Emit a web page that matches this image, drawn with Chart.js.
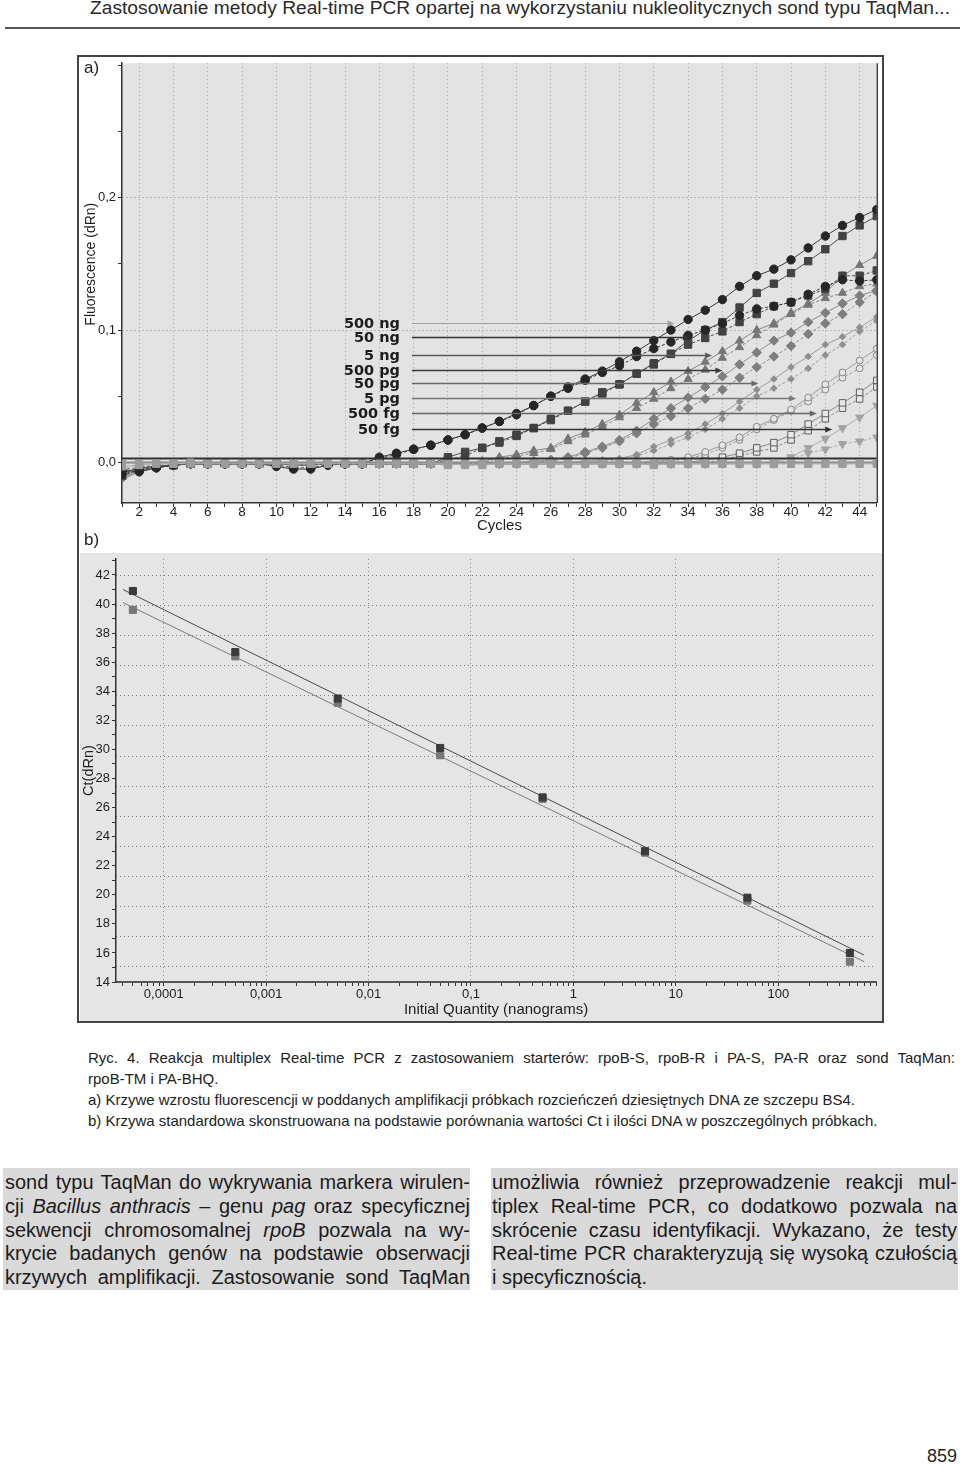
<!DOCTYPE html>
<html lang="pl">
<head>
<meta charset="utf-8">
<title>Ryc. 4 – Real-time PCR</title>
<script src="https://cdn.jsdelivr.net/npm/chart.js@4.4.1/dist/chart.umd.min.js"></script>
<style>
html,body{margin:0;padding:0;background:#fff;}
body{position:relative;width:960px;height:1473px;overflow:hidden;font-family:"Liberation Sans",Arial,Helvetica,sans-serif;color:#1f1f1f;}
.abs{position:absolute;}
.ln{white-space:nowrap;transform-origin:0 0;}
.jl{text-align:justify;text-align-last:justify;}
#header{left:90px;top:-2px;font-size:17.5px;line-height:20px;color:#2a2a2a;}
#rule{left:5px;top:27px;width:955px;height:2px;background:#555;}
#frame{left:77px;top:55px;width:807px;height:968px;border:2px solid #444;box-sizing:border-box;z-index:5;pointer-events:none;}
#lblA{left:84px;top:57px;font-size:17px;line-height:22px;}
#lblB{left:84px;top:529px;font-size:17px;line-height:22px;}
#chartA{left:79px;top:57px;}
#chartB{left:80px;top:553px;background:#e5e5e5;}
#caption{left:88px;top:1047px;width:867px;font-size:15px;line-height:21px;color:#222;}
.col{top:1168px;height:122px;background:#d9d9d9;font-size:20px;line-height:23.75px;color:#1b1b1b;padding-top:3px;box-sizing:border-box;}
#colL{left:3px;width:467px;padding-left:2px;}
#colR{left:491px;width:467px;padding-left:1px;}
#pageno{left:900px;width:57px;top:1445px;text-align:right;font-size:18px;line-height:22px;}
</style>
</head>
<body>
<div id="header" class="abs ln"><span>Zastosowanie metody Real-time PCR opartej na wykorzystaniu nukleolitycznych sond typu TaqMan...</span></div>
<div id="rule" class="abs"></div>

<canvas id="chartA" class="abs" width="804" height="480"></canvas>
<canvas id="chartB" class="abs" width="802" height="468"></canvas>
<div id="frame" class="abs"></div>
<div id="lblA" class="abs">a)</div>
<div id="lblB" class="abs">b)</div>

<div id="caption" class="abs">
  <div class="ln jl" data-just="1"><span>Ryc. 4. Reakcja multiplex Real-time PCR z zastosowaniem starterów: rpoB-S, rpoB-R i PA-S, PA-R oraz sond TaqMan:</span></div>
  <div class="ln"><span>rpoB-TM i PA-BHQ.</span></div>
  <div class="ln"><span>a) Krzywe wzrostu fluorescencji w poddanych amplifikacji próbkach rozcieńczeń dziesiętnych DNA ze szczepu BS4.</span></div>
  <div class="ln" data-ref="1"><span>b) Krzywa standardowa skonstruowana na podstawie porównania wartości Ct i ilości DNA w poszczególnych próbkach.</span></div>
</div>

<div id="colL" class="abs col">
  <div class="ln jl" data-just="1"><span>sond typu TaqMan do wykrywania markera wirulen-</span></div>
  <div class="ln jl" data-just="1"><span>cji <i>Bacillus anthracis</i> – genu <i>pag</i> oraz specyficznej</span></div>
  <div class="ln jl" data-just="1"><span>sekwencji chromosomalnej <i>rpoB</i> pozwala na wy-</span></div>
  <div class="ln jl" data-just="1"><span>krycie badanych genów na podstawie obserwacji</span></div>
  <div class="ln jl" data-just="1"><span>krzywych amplifikacji. Zastosowanie sond TaqMan</span></div>
</div>
<div id="colR" class="abs col">
  <div class="ln jl" data-just="1"><span>umożliwia również przeprowadzenie reakcji mul-</span></div>
  <div class="ln jl" data-just="1"><span>tiplex Real-time PCR, co dodatkowo pozwala na</span></div>
  <div class="ln jl" data-just="1"><span>skrócenie czasu identyfikacji. Wykazano, że testy</span></div>
  <div class="ln jl" data-just="1"><span>Real-time PCR charakteryzują się wysoką czułością</span></div>
  <div class="ln"><span>i specyficznością.</span></div>
</div>
<div id="pageno" class="abs">859</div>

<script>
// ---------------- DATA: panel a) amplification curves ----------------
const cycles = [1,2,3,4,5,6,7,8,9,10,11,12,13,14,15,16,17,18,19,20,21,22,23,24,25,26,27,28,29,30,31,32,33,34,35,36,37,38,39,40,41,42,43,44,45];

const fl500ngA = [-0.006,-0.007,-0.004,-0.002,-0.001,-0.001,-0.001,-0.001,-0.001,-0.003,-0.005,-0.005,-0.002,-0.001,-0.001,
  0.004,0.007,0.010,0.013,0.017,0.021,0.026,0.031,0.037,0.043,0.050,0.057,0.063,0.069,0.076,
  0.084,0.092,0.100,0.108,0.115,0.123,0.133,0.141,0.146,0.153,0.162,0.171,0.179,0.185,0.191];
const fl500ngB = [-0.009,-0.006,-0.004,-0.002,-0.001,-0.001,-0.001,-0.001,-0.001,-0.002,-0.004,-0.004,-0.002,-0.001,-0.001,
  0.003,0.006,0.010,0.013,0.017,0.021,0.026,0.031,0.036,0.043,0.050,0.056,0.062,0.068,0.073,
  0.080,0.086,0.091,0.096,0.100,0.105,0.111,0.116,0.118,0.121,0.127,0.133,0.138,0.137,0.138];
const fl50ngA = [-0.008,-0.004,-0.003,-0.002,-0.001,-0.001,-0.001,-0.001,-0.001,-0.001,-0.002,-0.002,-0.001,-0.001,-0.001,
  -0.001,-0.001,-0.001,-0.001,0.004,0.008,0.011,0.016,0.021,0.026,0.033,0.039,0.046,0.053,0.059,
  0.067,0.075,0.082,0.092,0.100,0.106,0.117,0.128,0.135,0.143,0.152,0.161,0.171,0.179,0.186];
const fl50ngB = [-0.010,-0.005,-0.003,-0.002,-0.001,-0.001,-0.001,-0.001,-0.001,-0.001,-0.002,-0.002,-0.001,-0.001,-0.001,
  -0.001,-0.001,-0.001,-0.001,0.002,0.005,0.011,0.015,0.020,0.026,0.032,0.039,0.046,0.052,0.059,
  0.067,0.074,0.082,0.089,0.094,0.099,0.106,0.112,0.118,0.121,0.126,0.131,0.141,0.141,0.145];
const fl5ngA = [-0.011,-0.006,-0.003,-0.002,-0.001,-0.001,-0.001,-0.001,-0.001,-0.001,-0.001,-0.001,-0.001,-0.001,-0.001,
  -0.001,-0.001,-0.001,-0.001,-0.001,-0.001,0.001,0.004,0.006,0.009,0.011,0.018,0.023,0.029,0.036,
  0.045,0.053,0.061,0.069,0.076,0.084,0.092,0.100,0.105,0.113,0.120,0.128,0.141,0.149,0.156];
const fl5ngB = [-0.007,-0.005,-0.003,-0.002,-0.001,-0.001,-0.001,-0.001,-0.001,-0.001,-0.001,-0.001,-0.001,-0.001,-0.001,
  -0.001,-0.001,-0.001,-0.001,-0.001,-0.001,0.000,0.003,0.005,0.007,0.010,0.016,0.021,0.027,0.034,
  0.041,0.048,0.056,0.063,0.070,0.079,0.087,0.096,0.104,0.112,0.119,0.124,0.128,0.133,0.135];
const fl500pgA = [-0.012,-0.007,-0.004,-0.002,-0.001,-0.001,-0.001,-0.001,-0.001,-0.001,-0.001,-0.001,-0.001,-0.001,-0.001,
  -0.001,-0.001,-0.001,-0.001,-0.001,-0.001,-0.001,-0.001,0.000,0.001,0.002,0.004,0.008,0.012,0.017,
  0.024,0.033,0.041,0.049,0.057,0.065,0.074,0.083,0.092,0.098,0.106,0.113,0.120,0.126,0.130];
const fl500pgB = [-0.009,-0.006,-0.003,-0.002,-0.001,-0.001,-0.001,-0.001,-0.001,-0.001,-0.001,-0.001,-0.001,-0.001,-0.001,
  -0.001,-0.001,-0.001,-0.001,-0.001,-0.001,-0.001,-0.001,-0.001,0.000,0.001,0.003,0.007,0.011,0.016,
  0.022,0.029,0.035,0.041,0.048,0.055,0.064,0.072,0.080,0.088,0.097,0.105,0.112,0.121,0.129];
const fl50pgA = [-0.013,-0.007,-0.004,-0.002,-0.001,-0.001,-0.001,-0.001,-0.001,-0.001,-0.001,-0.001,-0.001,-0.001,-0.001,
  -0.001,-0.001,-0.001,-0.001,-0.001,-0.001,-0.001,-0.001,-0.001,-0.001,-0.001,0.000,0.001,0.002,0.003,
  0.006,0.012,0.017,0.022,0.029,0.037,0.046,0.055,0.063,0.072,0.080,0.089,0.095,0.102,0.110];
const fl50pgB = [-0.010,-0.006,-0.003,-0.002,-0.001,-0.001,-0.001,-0.001,-0.001,-0.001,-0.001,-0.001,-0.001,-0.001,-0.001,
  -0.001,-0.001,-0.001,-0.001,-0.001,-0.001,-0.001,-0.001,-0.001,-0.001,-0.001,-0.001,0.000,0.001,0.002,
  0.005,0.009,0.014,0.019,0.025,0.033,0.041,0.050,0.056,0.063,0.071,0.081,0.089,0.099,0.107];
const fl5pgA = [-0.008,-0.005,-0.003,-0.002,-0.001,-0.001,-0.001,-0.001,-0.001,-0.001,-0.001,-0.001,-0.001,-0.001,-0.001,
  -0.001,-0.001,-0.001,-0.001,-0.001,-0.001,-0.001,-0.001,-0.001,-0.001,-0.001,-0.001,-0.001,-0.001,-0.001,
  0.000,0.001,0.002,0.004,0.008,0.013,0.019,0.027,0.033,0.040,0.049,0.059,0.068,0.077,0.086];
const fl5pgB = [-0.006,-0.004,-0.003,-0.002,-0.001,-0.001,-0.001,-0.001,-0.001,-0.001,-0.001,-0.001,-0.001,-0.001,-0.001,
  -0.001,-0.001,-0.001,-0.001,-0.001,-0.001,-0.001,-0.001,-0.001,-0.001,-0.001,-0.001,-0.001,-0.001,-0.001,
  -0.001,0.000,0.001,0.003,0.006,0.011,0.017,0.025,0.032,0.039,0.046,0.055,0.064,0.071,0.081];
const fl500fgA = [-0.007,-0.005,-0.003,-0.002,-0.001,-0.001,-0.001,-0.001,-0.001,-0.001,-0.001,-0.001,-0.001,-0.001,-0.001,
  -0.001,-0.001,-0.001,-0.001,-0.001,-0.001,-0.001,-0.001,-0.001,-0.001,-0.001,-0.001,-0.001,-0.001,-0.001,
  -0.001,-0.001,-0.001,0.000,0.002,0.004,0.007,0.011,0.015,0.021,0.029,0.037,0.045,0.053,0.062];
const fl500fgB = [-0.005,-0.004,-0.002,-0.002,-0.001,-0.001,-0.001,-0.001,-0.001,-0.001,-0.001,-0.001,-0.001,-0.001,-0.001,
  -0.001,-0.001,-0.001,-0.001,-0.001,-0.001,-0.001,-0.001,-0.001,-0.001,-0.001,-0.001,-0.001,-0.001,-0.001,
  -0.001,-0.001,-0.001,-0.001,0.000,0.002,0.005,0.008,0.011,0.017,0.024,0.033,0.041,0.048,0.057];
const fl50fgA = [-0.010,-0.006,-0.003,-0.002,-0.001,-0.001,-0.001,-0.001,-0.001,-0.001,-0.001,-0.001,-0.001,-0.001,-0.001,
  -0.001,-0.001,-0.001,-0.001,-0.001,-0.001,-0.001,-0.001,-0.001,-0.001,-0.001,-0.001,-0.001,-0.001,-0.001,
  -0.001,-0.001,-0.001,-0.001,-0.001,-0.001,-0.001,-0.001,0.000,0.004,0.011,0.018,0.026,0.034,0.043];
const fl50fgB = [-0.004,-0.003,-0.002,-0.002,-0.001,-0.001,-0.001,-0.001,-0.001,-0.001,-0.001,-0.001,-0.001,-0.001,-0.001,
  -0.001,-0.001,-0.001,-0.001,-0.001,-0.001,-0.001,-0.001,-0.001,-0.001,-0.001,-0.001,-0.001,-0.001,-0.001,
  -0.001,-0.001,-0.001,-0.001,-0.001,-0.001,-0.001,-0.001,-0.001,0.002,0.007,0.010,0.014,0.016,0.019];
const flNtcA = [-0.003,-0.002,-0.001,-0.001,-0.001,-0.001,-0.001,-0.001,-0.001,-0.001,-0.001,-0.001,-0.001,-0.001,-0.001,
  -0.001,-0.001,-0.001,-0.001,-0.001,-0.002,-0.002,-0.001,-0.001,-0.001,-0.001,-0.001,-0.001,-0.001,-0.001,
  -0.001,-0.002,-0.001,-0.001,-0.001,-0.001,-0.001,-0.001,-0.001,-0.001,-0.001,-0.001,-0.001,-0.001,-0.001];
const flNtcB = [-0.001,-0.001,-0.001,-0.001,0.000,-0.001,-0.001,-0.001,-0.001,-0.001,-0.001,-0.001,-0.001,-0.001,-0.001,
  -0.001,-0.001,-0.001,-0.001,-0.002,-0.001,-0.001,-0.001,-0.001,-0.001,-0.001,-0.001,-0.001,-0.001,-0.001,
  -0.001,-0.001,-0.001,-0.001,-0.001,-0.001,-0.001,-0.001,-0.001,-0.001,-0.001,-0.001,-0.001,-0.001,-0.001];
const thresholdCycles = [1, 45];
const thresholdUpper = [0.003, 0.003];
const thresholdLower = [0.0, 0.0];

// tick labels
const cycleLabelEvery = 2;
const fluorLabels = [0, 0.1, 0.2];

// legend (text of the arrow annotations)
const dilutionNames = ['500 ng','50 ng','5 ng','500 pg','50 pg','5 pg','500 fg','50 fg'];

// ---------------- DATA: panel b) standard curve ----------------
const quantities = [0.00005, 0.0005, 0.005, 0.05, 0.5, 5, 50, 500];
const ctSeriesA = [40.9, 36.7, 33.5, 30.1, 26.7, 23.0, 19.8, 16.0];
const ctSeriesB = [39.6, 36.4, 33.2, 29.6, 26.6, 22.9, 19.6, 15.4];
const fitQuantities = [0.00004, 690];
const fitLineA = [41.0, 15.85];
const fitLineB = [40.1, 15.4];
const quantityLabels = [0.0001, 0.001, 0.01, 0.1, 1, 10, 100];

// ---------------- styles (kept separate from the data) ----------------
const curveStyles = [
  {shape:'circle',  r:4.2, fill:'#262626', stroke:'#262626', line:'#3c3c3c'},
  {shape:'rect',    r:5.2, fill:'#424242', stroke:'#424242', line:'#4e4e4e'},
  {shape:'triangle',r:4.7, fill:'#767676', stroke:'#767676', line:'#888888'},
  {shape:'rectRot', r:4.7, fill:'#7e7e7e', stroke:'#7e7e7e', line:'#8c8c8c'},
  {shape:'rectRot', r:3.3, fill:'#8f8f8f', stroke:'#8f8f8f', line:'#9b9b9b'},
  {shape:'circle',  r:3.4, fill:'#e6e6e6', stroke:'#868686', line:'#9a9a9a'},
  {shape:'rect',    r:4.6, fill:'#e6e6e6', stroke:'#5e5e5e', line:'#8a8a8a'},
  {shape:'triangle',r:4.7, fill:'#a3a3a3', stroke:'#a3a3a3', line:'#ababab', rot:180}
];
const ntcStyle = {shape:'rect', r:5.0, fill:'#9c9c9c', stroke:'#9c9c9c', line:'#adadad'};

const curvePairs = [
  [fl500ngA, fl500ngB],[fl50ngA, fl50ngB],[fl5ngA, fl5ngB],[fl500pgA, fl500pgB],
  [fl50pgA, fl50pgB],[fl5pgA, fl5pgB],[fl500fgA, fl500fgB],[fl50fgA, fl50fgB]
];

// arrow annotations: level (dRn) and end cycle for each dilution label
const arrowNotes = {
  startCycle: 17.9,
  levels: [0.1054, 0.0948, 0.0813, 0.0701, 0.0597, 0.0485, 0.0373, 0.0254],
  ends:   [33.2, 34.1, 35.4, 36.0, 38.1, 40.3, 41.5, 42.4],
  colors: ['#a0a0a0','#333333','#5a5a5a','#3a3a3a','#6a6a6a','#777777','#666666','#333333'],
  widths: [1, 1.6, 1.3, 1.6, 1.3, 1.3, 1.3, 1.6]
};

Chart.defaults.font.family = '"Liberation Sans", Arial, Helvetica, sans-serif';
Chart.defaults.font.size = 13.5;
Chart.defaults.color = '#1e1e1e';

function curveDataset(values, st, dashed){
  return {
    data: cycles.map((c, i) => ({x: c, y: values[i]})),
    borderColor: st.line, borderWidth: 1, borderDash: dashed ? [3, 2] : [],
    pointStyle: st.shape, pointRotation: st.rot || 0, pointRadius: st.r,
    pointBackgroundColor: st.fill, pointBorderColor: st.stroke, pointBorderWidth: 1,
    tension: 0, fill: false
  };
}

// first datasets are drawn on top: negative controls and thresholds over the baseline
const dsA = [];
dsA.push(curveDataset(flNtcA, ntcStyle, false));
dsA.push(curveDataset(flNtcB, ntcStyle, true));
dsA.push({data: thresholdCycles.map((c,i)=>({x:c, y:thresholdUpper[i]})), borderColor:'#303030', borderWidth:2, pointRadius:0});
dsA.push({data: thresholdCycles.map((c,i)=>({x:c, y:thresholdLower[i]})), borderColor:'#8c8c8c', borderWidth:2, pointRadius:0});
curvePairs.forEach((pair, k) => {
  dsA.push(curveDataset(pair[0], curveStyles[k], false));
  dsA.push(curveDataset(pair[1], curveStyles[k], true));
});

const plotBg = {
  id: 'plotBg',
  beforeDraw(chart, args, opts){
    const {ctx, chartArea: a} = chart;
    ctx.save(); ctx.fillStyle = opts.color || '#e4e4e4';
    ctx.fillRect(a.left, a.top, a.right - a.left, a.bottom - a.top); ctx.restore();
  }
};

const panelAExtras = {
  id: 'panelAExtras',
  afterDatasetsDraw(chart){
    const {ctx, scales: {x, y}} = chart;
    ctx.save();
    const x0 = x.getPixelForValue(arrowNotes.startCycle);
    dilutionNames.forEach((name, i) => {
      const yy = Math.round(y.getPixelForValue(arrowNotes.levels[i])) + 0.5;
      const x1 = x.getPixelForValue(arrowNotes.ends[i]);
      ctx.strokeStyle = arrowNotes.colors[i]; ctx.lineWidth = arrowNotes.widths[i];
      ctx.beginPath(); ctx.moveTo(x0, yy); ctx.lineTo(x1 - 5, yy); ctx.stroke();
      ctx.fillStyle = arrowNotes.colors[i];
      ctx.beginPath(); ctx.moveTo(x1, yy); ctx.lineTo(x1 - 7, yy - 3); ctx.lineTo(x1 - 7, yy + 3); ctx.closePath(); ctx.fill();
      ctx.font = 'bold 14.5px "DejaVu Sans", Verdana, sans-serif';
      ctx.fillStyle = '#1c1c1c'; ctx.textAlign = 'right'; ctx.textBaseline = 'middle';
      ctx.fillText(name, x0 - 12, yy + 1);
    });
    ctx.restore();
  },
  afterDraw(chart){
    const {ctx, chartArea: a} = chart;
    ctx.save();
    ctx.strokeStyle = '#444'; ctx.lineWidth = 1.5;
    ctx.beginPath(); ctx.moveTo(a.right + 0.5, a.top); ctx.lineTo(a.right + 0.5, a.bottom); ctx.stroke();
    // y-axis title
    ctx.translate(chart.scales.y.left + 12, a.top + 201);
    ctx.rotate(-Math.PI / 2);
    ctx.font = '14px "Liberation Sans", Arial, sans-serif';
    ctx.fillStyle = '#1e1e1e'; ctx.textAlign = 'center'; ctx.textBaseline = 'middle';
    ctx.fillText('Fluorescence (dRn)', 0, 0);
    ctx.restore();
  }
};

new Chart(document.getElementById('chartA'), {
  type: 'line',
  data: {datasets: dsA},
  plugins: [plotBg, panelAExtras],
  options: {
    responsive: false, animation: false,
    layout: {padding: {left: 0, top: 1, right: 2, bottom: 0}},
    plugins: {legend: {display: false}, tooltip: {enabled: false}, plotBg: {color: '#e3e3e3'}},
    scales: {
      x: {
        type: 'linear', min: 1, max: 45,
        afterBuildTicks: s => { s.ticks = cycles.map(v => ({value: v})); },
        afterFit: s => { s.height = 34; s.paddingLeft = 0; s.paddingRight = 0; },
        ticks: {autoSkip: false, maxRotation: 0, padding: -3,
          callback: v => (v % cycleLabelEvery === 0 ? String(v) : '')},
        grid: {color: c => (c.tick && c.tick.value % cycleLabelEvery === 0 ? '#a2a2a2' : 'rgba(0,0,0,0)'),
          tickColor: '#333', tickLength: 4, lineWidth: 1},
        border: {color: '#333', width: 1.5, dash: [1, 3]},
        title: {display: true, text: 'Cycles', font: {size: 15}, padding: {top: 0, bottom: 2}, color: '#1e1e1e'}
      },
      y: {
        min: -0.0306, max: 0.3015,
        afterBuildTicks: s => { s.ticks = [0, 0.05, 0.1, 0.15, 0.2, 0.25, 0.3].map(v => ({value: v})); },
        afterFit: s => { s.width = 43; s.paddingTop = 0; s.paddingBottom = 0; },
        ticks: {autoSkip: false, padding: 2, font: {size: 13},
          callback: v => { const f = fluorLabels.find(l => Math.abs(l - v) < 1e-9); return f === undefined ? '' : f.toFixed(1).replace('.', ','); }},
        grid: {color: c => (c.tick && fluorLabels.some(l => l > 0 && Math.abs(l - c.tick.value) < 1e-9) ? '#8a8a8a' : 'rgba(0,0,0,0)'),
          tickColor: '#333', tickLength: 4},
        border: {color: '#333', width: 1.5, dash: [1, 3]}
      }
    }
  }
});

// ---------------- panel b ----------------
const fmtQ = v => String(v).replace('.', ',');

new Chart(document.getElementById('chartB'), {
  type: 'line',
  data: {datasets: [
    {data: quantities.map((q, i) => ({x: q, y: ctSeriesA[i]})), showLine: false, pointStyle: 'rect', pointRadius: 5,
      pointBackgroundColor: '#3b3b3b', pointBorderColor: '#3b3b3b', borderColor: '#3b3b3b'},
    {data: quantities.map((q, i) => ({x: q, y: ctSeriesB[i]})), showLine: false, pointStyle: 'rect', pointRadius: 5,
      pointBackgroundColor: '#777', pointBorderColor: '#777', borderColor: '#777'},
    {data: fitQuantities.map((q, i) => ({x: q, y: fitLineA[i]})), borderColor: '#4a4a4a', borderWidth: 1, pointRadius: 0},
    {data: fitQuantities.map((q, i) => ({x: q, y: fitLineB[i]})), borderColor: '#7c7c7c', borderWidth: 1, pointRadius: 0}
  ]},
  plugins: [plotBg],
  options: {
    responsive: false, animation: false,
    layout: {padding: {left: 0, top: 5, right: 2, bottom: 0}},
    plugins: {legend: {display: false}, tooltip: {enabled: false}, plotBg: {color: '#e5e5e5'}},
    scales: {
      x: {
        type: 'logarithmic', min: 3.42e-5, max: 900,
        afterBuildTicks: s => {
          const t = [];
          for (let e = -5; e <= 2; e++) for (let k = 1; k <= 9; k++) {
            const v = Number((k * Math.pow(10, e)).toPrecision(2));
            if (v >= s.min && v <= s.max) t.push({value: v});
          }
          s.ticks = t;
        },
        afterFit: s => { s.height = 39; s.paddingLeft = 0; s.paddingRight = 0; },
        ticks: {autoSkip: false, maxRotation: 0, padding: 1, font: {size: 13},
          callback: v => (quantityLabels.some(q => Math.abs(q - v) / q < 1e-9) ? fmtQ(v) : '')},
        grid: {color: c => (c.tick && quantityLabels.some(q => Math.abs(q - c.tick.value) / q < 1e-9) ? '#8c8c8c' : 'rgba(0,0,0,0)'),
          tickColor: '#333', tickLength: 4},
        border: {color: '#555', width: 2, dash: [1, 3]},
        title: {display: true, text: 'Initial Quantity (nanograms)', font: {size: 15}, padding: {top: 0, bottom: 2}, color: '#1e1e1e'}
      },
      y: {
        min: 14, max: 43.1,
        afterBuildTicks: s => { const t = []; for (let v = 14; v <= 43; v++) t.push({value: v}); s.ticks = t; },
        afterFit: s => { s.width = 36; s.paddingTop = 0; s.paddingBottom = 0; },
        ticks: {autoSkip: false, padding: 2, font: {size: 13}, callback: v => (v % 2 === 0 ? String(v) : '')},
        grid: {drawOnChartArea: false, tickColor: '#333', tickLength: 4},
        border: {color: '#333', width: 1.5},
        title: {display: true, text: 'Ct(dRn)', font: {size: 14.5}, padding: {top: 0, bottom: 0}, color: '#1e1e1e'}
      },
      yGrid: {
        position: 'left', min: 0, max: 14.04,
        afterBuildTicks: s => { s.ticks = [0.5,1.5,2.5,3.5,4.5,5.5,6.5,7.5,8.5,9.5,10.5,11.5,12.5,13.5].map(v => ({value: v})); },
        afterFit: s => { s.width = 0; },
        ticks: {display: false},
        grid: {drawTicks: false, color: '#7e7e7e'},
        border: {display: false, dash: [1, 3]}
      }
    }
  }
});

// ---------------- text fitting ----------------
function natW(el){ return el.querySelector('span').getBoundingClientRect().width; }
function fitBlock(block, width, scale){
  block.querySelectorAll('.ln').forEach(el => {
    el.style.transform = 'scaleX(' + scale + ')';
    if (el.dataset.just) { el.style.width = (width / scale) + 'px'; el.style.whiteSpace = 'normal'; }
  });
}
(function(){
  const h = document.getElementById('header');
  h.style.transform = 'scaleX(' + (860 / natW(h)) + ')';
  const cap = document.getElementById('caption');
  const ref = cap.querySelector('[data-ref]');
  let sc = 797 / natW(ref);
  cap.querySelectorAll('.ln[data-just]').forEach(el => { sc = Math.min(sc, 866 / natW(el)); });
  fitBlock(cap, 867, sc);
  ['colL', 'colR'].forEach(id => {
    const b = document.getElementById(id);
    let s = 1;
    b.querySelectorAll('.ln').forEach(el => { s = Math.min(s, 464 / natW(el)); });
    fitBlock(b, 465, s);
  });
})();
</script>
</body>
</html>
